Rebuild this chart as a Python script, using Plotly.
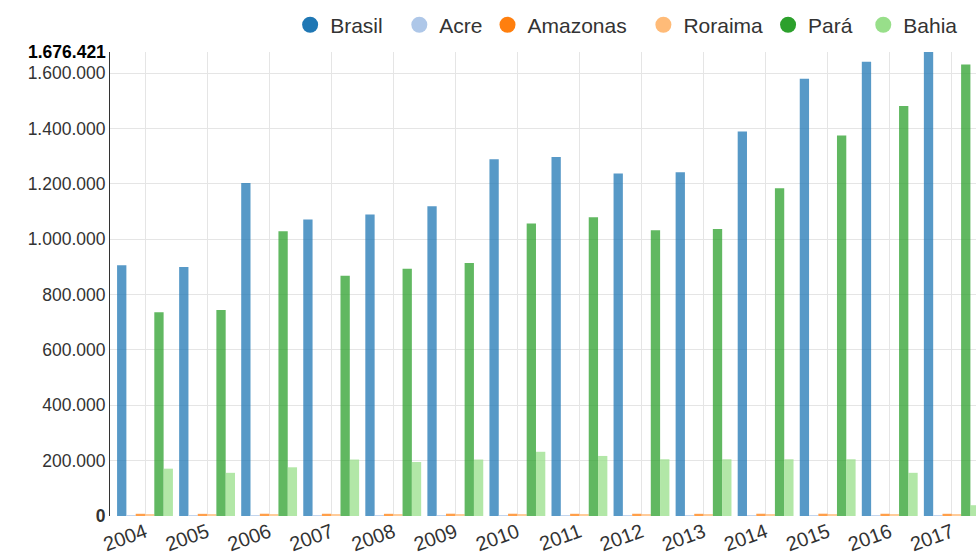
import plotly.graph_objects as go

# ── Data ─────────────────────────────────────────────────────────────────────
years = ["2004", "2005", "2006", "2007", "2008", "2009", "2010",
         "2011", "2012", "2013", "2014", "2015", "2016", "2017"]

brasil   = [906000, 900000, 1203000, 1071000, 1089000, 1119000, 1289000,
            1297000, 1237000, 1242000, 1389000, 1580000, 1641000, 1676421]
acre     = [3000, 3200, 3100, 3300, 3200, 3400, 3300,
            3500, 3400, 3300, 3500, 3400, 3600, 3500]
amazonas = [8000, 7800, 8200, 8100, 7900, 8300, 8200,
            8000, 8100, 7900, 8200, 8300, 8100, 8000]
roraima  = [6000, 6200, 5900, 6100, 6300, 6000, 6200,
            6100, 5900, 6000, 6200, 6100, 6300, 6200]
para     = [736000, 744000, 1029000, 868000, 893000, 914000, 1057000,
            1079000, 1032000, 1037000, 1184000, 1375000, 1481000, 1631000]
bahia    = [171000, 156000, 176000, 204000, 195000, 204000, 232000,
            217000, 205000, 205000, 205000, 205000, 156000, 39000]

series_names = ["Brasil", "Acre", "Amazonas", "Roraima", "Pará", "Bahia"]
series_vals  = [brasil, acre, amazonas, roraima, para, bahia]

y_ticks = [0, 200000, 400000, 600000, 800000, 1000000, 1200000, 1400000, 1600000]
y_max = 1676421

# ── Style ────────────────────────────────────────────────────────────────────
_COLORS = ["#1f77b4", "#aec7e8", "#ff7f0e", "#ffbb78", "#2ca02c", "#98df8a"]
_GRID   = "#e5e5e5"
_TEXT   = "#333333"
_FONT   = "Liberation Sans, Arial, sans-serif"
_NB     = "\u00a0"
# extra padding after some legend labels, to space entries like the original
_LEGEND_PAD = {"Brasil": 2, "Acre": 0, "Amazonas": 2, "Roraima": 0, "Pará": 1, "Bahia": 0}


def _fmt(v):
    return f"{v:,}".replace(",", ".")


fig = go.Figure()

for name, vals, color in zip(series_names, series_vals, _COLORS):
    fig.add_trace(go.Bar(
        x=years, y=vals, name=name,
        marker=dict(color=color, opacity=0.75, line=dict(width=0)),
        showlegend=False,
    ))

# legend entries drawn as circles
for name, color in zip(series_names, _COLORS):
    fig.add_trace(go.Scatter(
        x=[None], y=[None], name=name + _NB * _LEGEND_PAD[name], mode="markers",
        marker=dict(color=color, size=22, symbol="circle"),
    ))

ticktext = [f"<b>{_fmt(v)}</b>" if v == 0 else _fmt(v) for v in y_ticks]

fig.update_layout(
    width=976, height=557,
    paper_bgcolor="#FFFFFF", plot_bgcolor="#FFFFFF",
    font=dict(family=_FONT, color=_TEXT, size=20),
    margin=dict(l=110, r=0, t=52, b=41, autoexpand=False),
    barmode="group", bargap=0.1, bargroupgap=0,
    showlegend=True,
    legend=dict(
        orientation="h",
        x=0.208, xanchor="left",
        y=1.058, yanchor="middle",
        font=dict(family=_FONT, size=21, color=_TEXT),
        bgcolor="rgba(0,0,0,0)",
        itemclick=False,
    ),
    xaxis=dict(
        type="category",
        range=[-0.564, 13.39],
        showgrid=True, gridcolor=_GRID, gridwidth=1,
        showline=False, zeroline=False,
        ticks="", tickangle=-20,
        tickfont=dict(family=_FONT, size=20, color=_TEXT),
    ),
    yaxis=dict(
        range=[0, y_max],
        tickvals=y_ticks, ticktext=ticktext,
        showgrid=True, gridcolor=_GRID, gridwidth=1,
        showline=True, linecolor="#333333", linewidth=1,
        zeroline=False, ticks="",
        tickfont=dict(family=_FONT, size=17.5, color=_TEXT),
    ),
)

fig.add_annotation(
    x=0, xref="paper", y=y_max, yref="y",
    text=f"<b>{_fmt(y_max)}</b>",
    xanchor="right", yanchor="middle", xshift=-2,
    showarrow=False,
    font=dict(family=_FONT, size=17.5, color="#000000"),
)

# drop the page's default body margin so the figure fills the window
fig.write_html(
    "out.html",
    config={"displayModeBar": False},
    post_script="document.body.style.margin='0';document.body.style.overflow='hidden';",
)
